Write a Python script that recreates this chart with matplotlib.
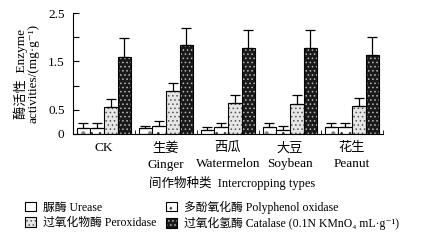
import matplotlib.pyplot as plt
import numpy as np
from matplotlib.patches import Patch
from matplotlib.legend_handler import HandlerTuple

plt.rcParams['font.family'] = ['Liberation Serif', 'Noto Sans CJK SC', 'DejaVu Serif']
plt.rcParams['hatch.linewidth'] = 0.6

# hodnoty
groups = ['CK', '生姜\nGinger', '西瓜\nWatermelon', '大豆\nSoybean', '花生\nPeanut']
urease = [0.12, 0.12, 0.08, 0.14, 0.14]
urease_err = [0.10, 0.05, 0.07, 0.09, 0.09]
polyphenol = [0.12, 0.165, 0.14, 0.08, 0.14]
polyphenol_err = [0.10, 0.105, 0.09, 0.09, 0.09]
peroxidase = [0.55, 0.89, 0.65, 0.63, 0.57]
peroxidase_err = [0.17, 0.17, 0.15, 0.17, 0.18]
catalase = [1.60, 1.83, 1.78, 1.78, 1.63]
catalase_err = [0.38, 0.37, 0.37, 0.37, 0.38]

series = [
    ('脲酶 Urease', urease, urease_err, 'white', '#888888', '.'),
    ('多酚氧化酶 Polyphenol oxidase', polyphenol, polyphenol_err, 'white', '#333333', '..'),
    ('过氧化物酶 Peroxidase', peroxidase, peroxidase_err, '#e6e6e6', '#555555', '....'),
    ('过氧化氢酶 Catalase (0.1N KMnO₄ mL·g⁻¹)', catalase, catalase_err, '#1a1a1a', '#bbbbbb', '....'),
]

fig = plt.figure(figsize=(4.24, 2.41), dpi=100)
ax = fig.add_axes([0.172, 0.444, 0.731, 0.502])

x = np.arange(len(groups))
width = 0.22
handles = []
for i, (label, vals, errs, fc, hc, hatch) in enumerate(series):
    pos = x + (i - 1.5) * width
    ax.bar(pos, vals, width, color=fc, edgecolor=hc, hatch=hatch, linewidth=0)
    ax.bar(pos, vals, width, fill=False, edgecolor='black', linewidth=0.8)
    ax.errorbar(pos, vals, yerr=[np.zeros(len(vals)), errs], fmt='none',
                ecolor='black', elinewidth=0.9, capsize=3.5, capthick=0.9)
    h1 = Patch(facecolor=fc, edgecolor=hc, hatch=hatch, linewidth=0)
    h2 = Patch(fill=False, edgecolor='black', linewidth=0.8)
    handles.append(((h1, h2), label))

ax.set_xlim(-0.5, 4.5)
ax.set_ylim(0, 2.5)
ax.set_yticks([0, 0.5, 1.0, 1.5, 2.0, 2.5])
ax.set_yticklabels(['0', '0.5', '', '1.5', '', '2.5'], fontsize=9.5)
ax.set_xticks(x)
ax.set_xticklabels(groups, fontsize=9.5, linespacing=1.4, va='top')
ax.set_xticks(np.arange(-0.5, 5, 1), minor=True)
ax.tick_params(axis='x', which='major', length=0, pad=6)
ax.tick_params(axis='x', which='minor', direction='in', length=3, width=0.6)
ax.tick_params(axis='y', direction='in', length=4, width=0.8, pad=6)
ax.spines['top'].set_visible(False)
ax.spines['right'].set_visible(False)
ax.spines['left'].set_linewidth(0.8)
ax.spines['bottom'].set_linewidth(0.8)

ax.set_ylabel('酶活性  Enzyme\nactivities/(mg·g⁻¹)', fontsize=9.5,
              linespacing=1.0, labelpad=6)
fig.text(0.548, 0.24, '间作物种类  Intercropping types', fontsize=9, ha='center', va='center')

order = [0, 2, 1, 3]
leg = fig.legend([handles[k][0] for k in order], [handles[k][1] for k in order],
                 ncol=2, loc='lower left', bbox_to_anchor=(0.035, 0.0),
                 frameon=False, fontsize=8.5, handlelength=0.9, handleheight=0.9,
                 handletextpad=0.6, columnspacing=0.8, labelspacing=0.3,
                 handler_map={tuple: HandlerTuple(ndivide=1)})

fig.savefig('out.png', dpi=100)
